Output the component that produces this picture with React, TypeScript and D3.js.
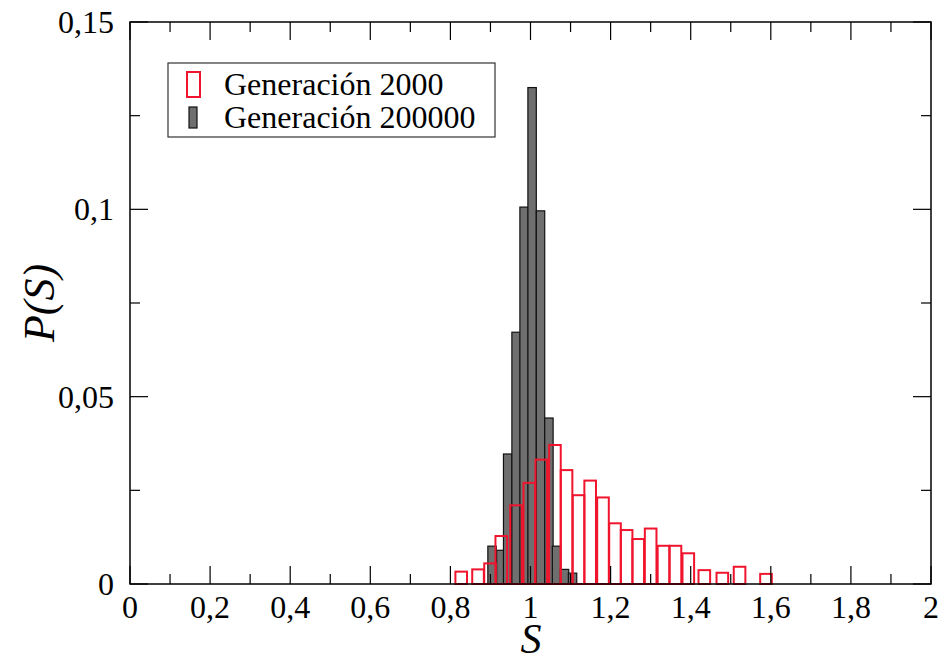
import React from "react";
import * as d3 from "d3";

// Generación 2000 (red, unfilled)
const redCenters = [0.827, 0.869, 0.899, 0.927, 0.964, 0.997, 1.027, 1.061, 1.090, 1.120, 1.149, 1.181, 1.211, 1.240, 1.269, 1.300, 1.332, 1.362, 1.394, 1.434, 1.479, 1.522, 1.588];
const redValues = [0.0033, 0.0039, 0.0055, 0.0128, 0.0210, 0.0270, 0.0332, 0.0371, 0.0304, 0.0237, 0.0276, 0.0231, 0.0162, 0.0144, 0.0120, 0.0148, 0.0102, 0.0102, 0.0082, 0.0037, 0.0030, 0.0046, 0.0027];

// Generación 200000 (gray, filled)
const blackCenters = [0.904, 0.926, 0.943, 0.964, 0.984, 1.004, 1.025, 1.046, 1.065, 1.085, 1.105];
const blackValues = [0.0101, 0.0090, 0.0347, 0.0672, 0.1006, 0.1325, 0.0996, 0.0443, 0.0101, 0.0039, 0.0029];

const xMajor = [0, 0.2, 0.4, 0.6, 0.8, 1, 1.2, 1.4, 1.6, 1.8, 2];
const xMajorLabels = ["0", "0,2", "0,4", "0,6", "0,8", "1", "1,2", "1,4", "1,6", "1,8", "2"];
const xMinor = [0.1, 0.3, 0.5, 0.7, 0.9, 1.1, 1.3, 1.5, 1.7, 1.9];
const yMajor = [0, 0.05, 0.1, 0.15];
const yMajorLabels = ["0", "0,05", "0,1", "0,15"];
const yMinor = [0.025, 0.075, 0.125];

const legendLabels = ["Generación 2000", "Generación 200000"];

const RED = "#f0142d";
const GRAY = "#6f6f6f";
const FONT = "Liberation Serif, Times New Roman, DejaVu Serif, serif";

export default function App() {
  const L = 130, R = 931, T = 22, B = 584;
  const x = d3.scaleLinear().domain([0, 2]).range([L, R]);
  const y = d3.scaleLinear().domain([0, 0.15]).range([B, T]);
  const redW = x(0.029) - x(0);
  const blackW = x(0.021) - x(0);
  const major = 18, minor = 10;
  const txt = { fontFamily: FONT };

  return (
    <svg width={939} height={662} style={{ position: "absolute", left: 0, top: 0, background: "#fff" }}>
      <rect x={0} y={0} width={939} height={662} fill="#fff" />
      {blackCenters.map((c, i) => (
        <rect key={"b" + i} x={x(c) - blackW / 2} y={y(blackValues[i])} width={blackW} height={B - y(blackValues[i])}
          fill={GRAY} stroke="#111" strokeWidth={1.2} />
      ))}
      {redCenters.map((c, i) => (
        <rect key={"r" + i} x={x(c) - redW / 2} y={y(redValues[i])} width={redW} height={B - y(redValues[i])}
          fill="none" stroke={RED} strokeWidth={2} />
      ))}
      <rect x={L} y={T} width={R - L} height={B - T} fill="none" stroke="#000" strokeWidth={1.5} />
      {xMajor.map((v, i) => (
        <g key={"xm" + i}>
          <line x1={x(v)} x2={x(v)} y1={B} y2={B - major} stroke="#000" strokeWidth={1.2} />
          <line x1={x(v)} x2={x(v)} y1={T} y2={T + major} stroke="#000" strokeWidth={1.2} />
          <text x={x(v)} y={618} textAnchor="middle" style={txt} fontSize={32}>{xMajorLabels[i]}</text>
        </g>
      ))}
      {xMinor.map((v, i) => (
        <g key={"xn" + i}>
          <line x1={x(v)} x2={x(v)} y1={B} y2={B - minor} stroke="#000" strokeWidth={1.2} />
          <line x1={x(v)} x2={x(v)} y1={T} y2={T + minor} stroke="#000" strokeWidth={1.2} />
        </g>
      ))}
      {yMajor.map((v, i) => (
        <g key={"ym" + i}>
          <line x1={L} x2={L + major} y1={y(v)} y2={y(v)} stroke="#000" strokeWidth={1.2} />
          <line x1={R} x2={R - major} y1={y(v)} y2={y(v)} stroke="#000" strokeWidth={1.2} />
          <text x={114} y={y(v) + 11} textAnchor="end" style={txt} fontSize={32}>{yMajorLabels[i]}</text>
        </g>
      ))}
      {yMinor.map((v, i) => (
        <g key={"yn" + i}>
          <line x1={L} x2={L + minor} y1={y(v)} y2={y(v)} stroke="#000" strokeWidth={1.2} />
          <line x1={R} x2={R - minor} y1={y(v)} y2={y(v)} stroke="#000" strokeWidth={1.2} />
        </g>
      ))}
      <text x={531} y={653} textAnchor="middle" style={txt} fontStyle="italic" fontSize={42}>S</text>
      <text transform={`translate(54, ${y(0.075)}) rotate(-90)`} textAnchor="middle" style={txt} fontStyle="italic" fontSize={44}>P(S)</text>
      <rect x={168} y={63} width={327} height={74} fill="#fff" stroke="#333" strokeWidth={1.2} />
      <rect x={187} y={72} width={13} height={25} fill="none" stroke={RED} strokeWidth={2} />
      <rect x={189} y={107} width={8} height={21} fill={GRAY} stroke="#111" strokeWidth={1.2} />
      <text x={224} y={95} style={txt} fontSize={32}>{legendLabels[0]}</text>
      <text x={224} y={128} style={txt} fontSize={32}>{legendLabels[1]}</text>
    </svg>
  );
}
